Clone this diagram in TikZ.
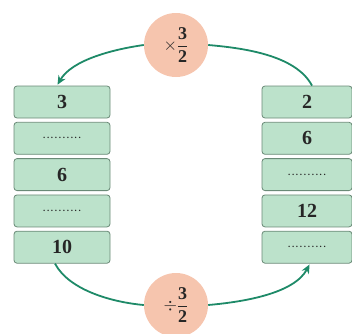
\documentclass[tikz,border=0pt]{standalone}
\usepackage{fontspec}
\setmainfont{Liberation Serif}
\usepackage{amsmath}
\usetikzlibrary{arrows.meta,positioning}
\definecolor{tbgreen}{HTML}{BCE2CB}
\definecolor{tbedge}{HTML}{6A8A77}
\definecolor{tbpeach}{HTML}{F6C5AE}
\definecolor{tbarrow}{HTML}{1E8A68}
\definecolor{tbink}{HTML}{262626}
\tikzset{
  tbcell/.style ={rectangle, rounded corners=3pt, draw=tbedge, fill=tbgreen,
                  line width=0.8pt, minimum width=96pt, minimum height=32pt,
                  inner sep=0pt, font=\fontsize{20}{22}\selectfont\bfseries, text=tbink},
  tbcellr/.style={tbcell, minimum width=90pt},
  tbop/.style   ={circle, fill=tbpeach, minimum size=64pt, inner sep=0pt,
                  font=\fontsize{18}{20}\selectfont, text=tbink},
  tbline/.style ={line width=1.8pt, draw=tbarrow},
  tbarr/.style  ={tbline, -{Stealth[length=9pt,width=8pt]}, shorten >=1pt},
}
\newcommand{\blank}{{\fontsize{9}{10}\selectfont\makebox[40pt]{\dotfill}}}

\begin{document}
\begin{tikzpicture}[x=1pt, y=1pt, node distance=3.5pt]
  \useasboundingbox (0,0) rectangle (352,333);
  % left column
  \node[tbcell] (l1) at (62,231) {3};
  \node[tbcell, below=of l1] (l2) {\blank};
  \node[tbcell, below=of l2] (l3) {6};
  \node[tbcell, below=of l3] (l4) {\blank};
  \node[tbcell, below=of l4] (l5) {10};
  % right column
  \node[tbcellr] (r1) at (307,231) {2};
  \node[tbcellr, below=of r1] (r2) {6};
  \node[tbcellr, below=of r2] (r3) {\blank};
  \node[tbcellr, below=of r3] (r4) {12};
  \node[tbcellr, below=of r4] (r5) {\blank};
  % operators
  \node[tbop] (mul) at (176,288) {$\times\dfrac{\mathbf{3}}{\mathbf{2}}$};
  \node[tbop] (div) at (176,28) {$\div\dfrac{\mathbf{3}}{\mathbf{2}}$};
  % connectors
  \draw[tbarr] (mul.west) to[out=188, in=60, looseness=0.8] ([xshift=-5pt]l1.north);
  \draw[tbline] ([xshift=5pt]r1.north) to[out=118, in=-5, looseness=0.8] (mul.east);
  \draw[tbline] ([xshift=-7pt]l5.south) to[out=-62, in=175, looseness=0.8] (div.west);
  \draw[tbarr] (div.east) to[out=5, in=-118, looseness=0.8] ([xshift=3pt]r5.south);
\end{tikzpicture}
\end{document}
